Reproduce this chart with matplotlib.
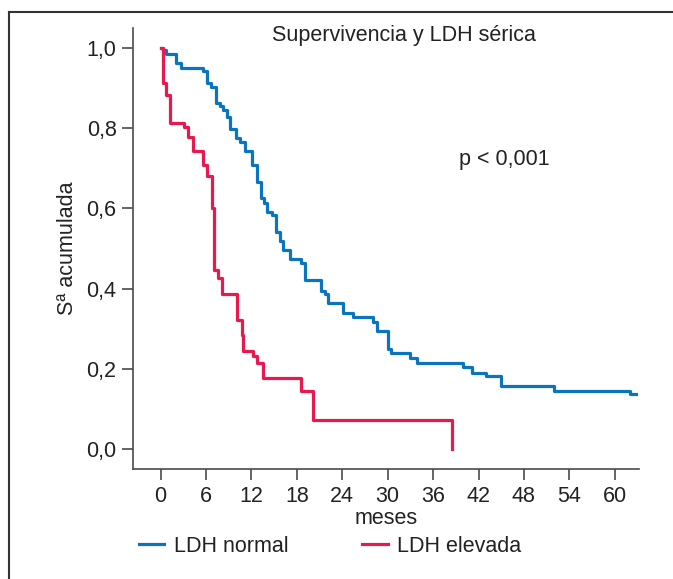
import numpy as np
import matplotlib.pyplot as plt
from matplotlib.lines import Line2D

# Kaplan-Meier steps (months, cumulative survival)
t_normal = [0, 0.34, 0.79, 1.98, 2.77, 5.63, 6.16, 6.61, 7.31, 7.83, 8.27, 8.80,
            9.15, 9.95, 10.48, 11.14, 12.02, 12.68, 13.21, 13.65, 14.11, 14.70,
            15.19, 15.76, 16.20, 17.08, 18.53, 19.06, 21.18, 21.70, 22.14, 24.12,
            25.44, 28.08, 28.57, 30.09, 30.49, 32.93, 33.90, 39.89, 41.16, 42.93,
            44.95, 51.96, 61.99, 62.8]
s_normal = [1.0, 0.995, 0.985, 0.962, 0.951, 0.943, 0.914, 0.902, 0.864, 0.855,
            0.845, 0.827, 0.797, 0.775, 0.766, 0.744, 0.708, 0.666, 0.625, 0.613,
            0.592, 0.584, 0.540, 0.519, 0.496, 0.474, 0.463, 0.421, 0.394, 0.386,
            0.363, 0.340, 0.328, 0.317, 0.295, 0.249, 0.239, 0.226, 0.214, 0.205,
            0.190, 0.182, 0.158, 0.145, 0.136, 0.136]

t_elev = [0, 0.34, 0.79, 1.23, 3.12, 3.65, 4.31, 5.55, 6.16, 6.74, 7.04, 7.61,
          8.14, 10.04, 10.70, 10.91, 12.23, 12.68, 13.55, 18.53, 20.16, 38.44]
s_elev = [1.0, 0.912, 0.883, 0.814, 0.802, 0.777, 0.744, 0.708, 0.682, 0.600,
          0.446, 0.427, 0.387, 0.322, 0.284, 0.245, 0.232, 0.215, 0.176, 0.145,
          0.072, 0.0]

x_ticks = [0, 6, 12, 18, 24, 30, 36, 42, 48, 54, 60]
y_ticks = [0.0, 0.2, 0.4, 0.6, 0.8, 1.0]
y_labels = ['0,0', '0,2', '0,4', '0,6', '0,8', '1,0']

blue = '#0b74be'
red = '#e8194f'
grey = '#4a4a4a'

plt.rcParams['font.family'] = ['Liberation Sans', 'DejaVu Sans']
plt.rcParams['font.size'] = 15.5

fig = plt.figure(figsize=(6.73, 5.79), dpi=100)
ax = fig.add_axes([0.198, 0.19, 0.9495 - 0.198, 0.9516 - 0.19])

ax.step(t_normal, s_normal, where='post', color=blue, lw=2.3)
ax.step(t_elev, s_elev, where='post', color=red, lw=2.3)

ax.set_xlim(-3.6, 63.2)
ax.set_ylim(-0.05, 1.05)
ax.set_xticks(x_ticks)
ax.set_yticks(y_ticks)
ax.set_yticklabels(y_labels)
for side in ['top', 'right']:
    ax.spines[side].set_visible(False)
for side in ['left', 'bottom']:
    ax.spines[side].set_color(grey)
    ax.spines[side].set_linewidth(1.2)
ax.tick_params(length=8, width=1.2, color=grey, labelcolor='#222222', pad=4)

ax.set_xlabel('meses', color='#222222', labelpad=1)
ax.set_ylabel('Sª acumulada', color='#222222', labelpad=6)

fig.text(404 / 673, 1 - 35 / 579, 'Supervivencia y LDH sérica', ha='center',
         va='center', color='#222222')
fig.text(504 / 673, 1 - 160 / 579, 'p < 0,001', ha='center', va='center',
         color='#222222')

handles = [Line2D([], [], color=blue, lw=2.3), Line2D([], [], color=red, lw=2.3)]
fig.legend(handles, ['LDH normal', 'LDH elevada'], loc='center',
           bbox_to_anchor=(330 / 673, 1 - 546 / 579), ncol=2, frameon=False,
           handlelength=1.2, handletextpad=0.45, columnspacing=3.4,
           labelcolor='#222222')

# open frame around the figure (top and left edges only)
fig.add_artist(Line2D([9 / 673, 9 / 673], [0, 1 - 12 / 579], color='#333333', lw=1.5))
fig.add_artist(Line2D([9 / 673, 1], [1 - 12 / 579, 1 - 12 / 579], color='#333333', lw=1.5))

fig.savefig('out.png', dpi=100)
